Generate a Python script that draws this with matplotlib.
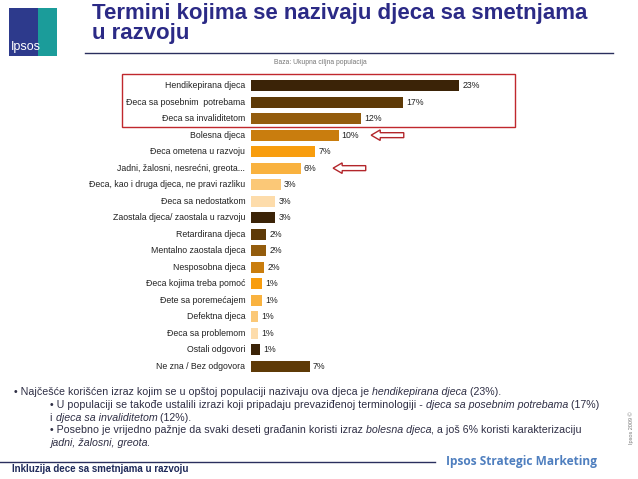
import matplotlib.pyplot as plt
from matplotlib.patches import Rectangle, Polygon

plt.rcParams['font.family'] = ['Liberation Sans', 'DejaVu Sans']

categories = ['Hendikepirana djeca', 'Đeca sa posebnim  potrebama', 'Đeca sa invaliditetom',
              'Bolesna djeca', 'Đeca ometena u razvoju', 'Jadni, žalosni, nesrećni, greota...',
              'Đeca, kao i druga djeca, ne pravi razliku', 'Đeca sa nedostatkom',
              'Zaostala djeca/ zaostala u razvoju', 'Retardirana djeca', 'Mentalno zaostala djeca',
              'Nesposobna djeca', 'Đeca kojima treba pomoć', 'Đete sa poremećajem',
              'Defektna djeca', 'Đeca sa problemom', 'Ostali odgovori', 'Ne zna / Bez odgovora']
values = [23, 16.8, 12.2, 9.7, 7.1, 5.5, 3.3, 2.7, 2.7, 1.7, 1.7, 1.5, 1.3, 1.3, 0.8, 0.8, 1.0, 6.5]
value_labels = ['23%', '17%', '12%', '10%', '7%', '6%', '3%', '3%', '3%', '2%', '2%', '2%',
                '1%', '1%', '1%', '1%', '1%', '7%']
palette = ['#3b2307', '#5e3a07', '#935c0d', '#c97d0e', '#f89d0e', '#f9b23f', '#fbc877', '#fddcab']
bar_colors = palette + palette + palette[:2]
arrow_rows = [3, 5]

W, H = 638, 479
fig = plt.figure(figsize=(W / 100, H / 100), dpi=100)


def fx(x):
    return x / W


def fy(y):
    return 1 - y / H


# bars
px_per_pct = 9.057
ax_left, ax_w = 250.7, 30 * px_per_pct
row_top, row_gap = 85.7, 16.49
ax_top = row_top - row_gap / 2
ax_bot = ax_top + row_gap * len(categories)
ax = fig.add_axes([fx(ax_left), fy(ax_bot), ax_w / W, (ax_bot - ax_top) / H])
rows = list(range(len(categories)))
ax.barh(rows, values, height=0.67, color=bar_colors)
ax.set_xlim(0, 30)
ax.set_ylim(len(categories) - 0.5, -0.5)
ax.axis('off')
for r in rows:
    ax.text(-0.6, r, categories[r], ha='right', va='center', fontsize=6.3, color='#222222')
    ax.text(values[r] + 0.35, r, value_labels[r], ha='left', va='center', fontsize=6.3,
            color='#222222')

# outline arrows pointing at two bars
for r in arrow_rows:
    tip = values[r] + 3.6
    pts = [(tip, r), (tip + 1.0, r - 0.32), (tip + 1.0, r - 0.15), (tip + 3.6, r - 0.15),
           (tip + 3.6, r + 0.15), (tip + 1.0, r + 0.15), (tip + 1.0, r + 0.32)]
    ax.add_patch(Polygon(pts, closed=True, facecolor='white', edgecolor='#b3262b', lw=1.0,
                         clip_on=False))

# red box around first three rows
fig.patches.append(Rectangle((fx(122.3), fy(127.3)), (515 - 122.3) / W, (127.3 - 74) / H,
                             transform=fig.transFigure, fill=False, edgecolor='#c0282d', lw=1.0))

# logo
fig.patches.append(Rectangle((fx(9), fy(56)), 48 / W, 48 / H, transform=fig.transFigure,
                             facecolor='#2d3a8c', edgecolor='none'))
fig.patches.append(Rectangle((fx(38), fy(56)), 19 / W, 48 / H, transform=fig.transFigure,
                             facecolor='#1b9c9a', edgecolor='none'))
fig.text(fx(11), fy(50), 'Ipsos', fontsize=9, color='white', va='baseline', ha='left')

# title
title_color = '#2b2a86'
fig.text(fx(92), fy(18.5), 'Termini kojima se nazivaju djeca sa smetnjama', fontsize=16,
         fontweight='bold', color=title_color, va='baseline')
fig.text(fx(92), fy(38.5), 'u razvoju', fontsize=16, fontweight='bold', color=title_color,
         va='baseline')
fig.add_artist(plt.Line2D([fx(85), fx(613)], [fy(53), fy(53)], color='#2a2f5e', lw=1.0))
fig.text(fx(320), fy(62), 'Baza: Ukupna ciljna populacija', fontsize=4.9, color='#777777',
         ha='center', va='center')

# commentary with italic pieces
text_color = '#2f2f45'
fig.canvas.draw()
renderer = fig.canvas.get_renderer()


def rich_line(x, y, parts, size=7.7):
    for txt, italic in parts:
        t = fig.text(fx(x), fy(y), txt, fontsize=size, color=text_color, va='center',
                     style='italic' if italic else 'normal')
        x += t.get_window_extent(renderer).width


rich_line(14, 392, [('• Najčešće korišćen izraz kojim se u opštoj populaciji nazivaju ova djeca je ', False),
                    ('hendikepirana djeca', True), (' (23%).', False)])
rich_line(50, 405, [('• U populaciji se takođe ustalili izrazi koji pripadaju prevaziđenoj terminologiji - ', False),
                    ('djeca sa posebnim potrebama', True), (' (17%)', False)])
rich_line(50, 418, [('i ', False), ('djeca sa invaliditetom', True), (' (12%).', False)])
rich_line(50, 430, [('• Posebno je vrijedno pažnje da svaki deseti građanin koristi izraz ', False),
                    ('bolesna djeca', True), (', a još 6% koristi karakterizaciju', False)])
rich_line(50, 443, [('jadni, žalosni, greota', True), ('.', False)])

# footer
fig.add_artist(plt.Line2D([0, fx(435)], [fy(462), fy(462)], color='#2a2f5e', lw=1.0))
fig.text(fx(12), fy(469), 'Inkluzija dece sa smetnjama u razvoju', fontsize=7.0,
         fontweight='bold', color='#1f2a5a', va='center')
fig.text(fx(446), fy(461), 'Ipsos Strategic Marketing', family='Open Sans', fontsize=8.6,
         fontweight='bold', color='#4f7fbf', va='center')
fig.text(fx(631), fy(428), 'Ipsos 2009 ©', fontsize=4.0, color='#777777', rotation=90,
         ha='center', va='center')

fig.savefig('out.png', dpi=100)
